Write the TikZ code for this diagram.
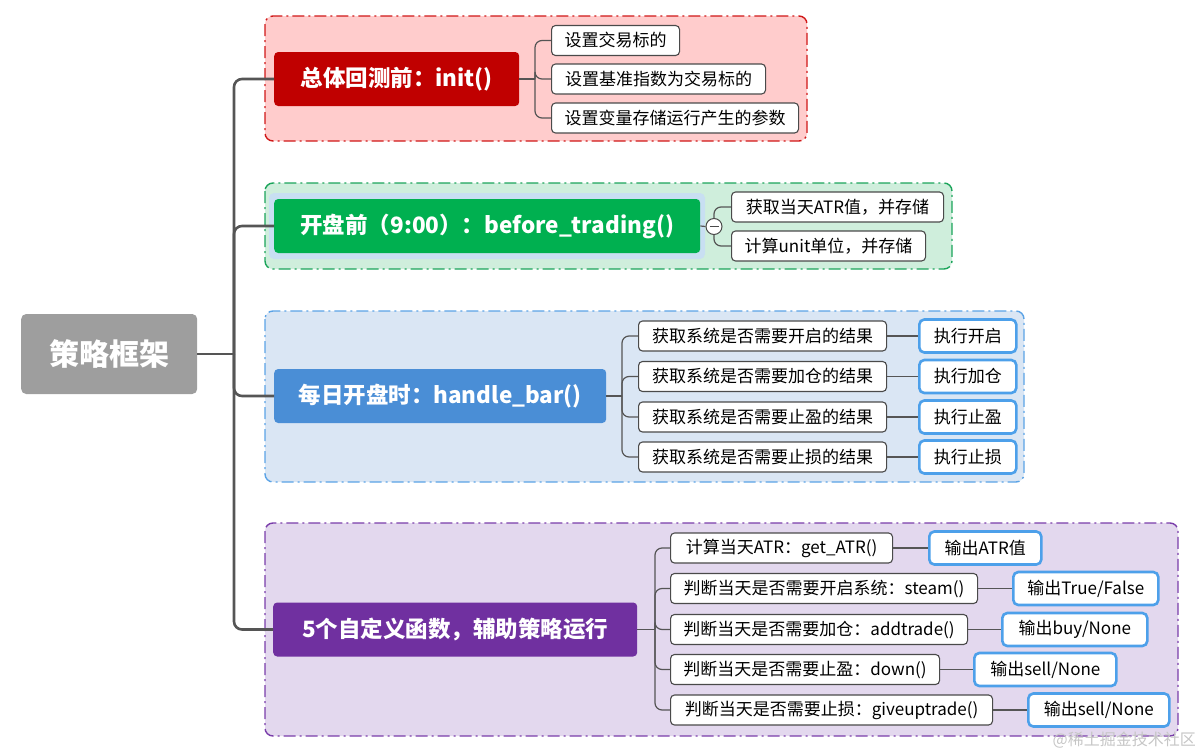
\documentclass[tikz,border=0pt]{standalone}
\usepackage{fontspec}
\setmainfont{Noto Sans CJK SC}
\definecolor{redfill}{HTML}{FFCCCC}
\definecolor{redline}{HTML}{D01818}
\definecolor{redmain}{HTML}{C00000}
\definecolor{greenfill}{HTML}{CFEEDC}
\definecolor{greenline}{HTML}{1BA45A}
\definecolor{greenmain}{HTML}{00B050}
\definecolor{bluefill}{HTML}{DAE6F4}
\definecolor{blueline}{HTML}{5BA3E6}
\definecolor{bluemain}{HTML}{4A8ED6}
\definecolor{purplefill}{HTML}{E3D8EE}
\definecolor{purpleline}{HTML}{7A3DAA}
\definecolor{purplemain}{HTML}{7030A0}
\definecolor{rootfill}{HTML}{9E9E9E}
\definecolor{conn}{HTML}{555555}
\definecolor{leafline}{HTML}{4A4A4A}
\definecolor{outline}{HTML}{4DA0EA}
\definecolor{hilite}{HTML}{C8DFF2}
\begin{document}
\begin{tikzpicture}[x=1pt,y=-1pt,
 frame/.style={rounded corners=8pt, line width=1.4pt, dash pattern=on 12pt off 4pt on 2pt off 4pt},
 mainbox/.style={rounded corners=4pt, text=white, font=\fontsize{22.5}{26}\selectfont\bfseries, minimum height=54pt, inner sep=0pt, anchor=west},
 leaf/.style={draw=leafline, line width=1.1pt, fill=white, rounded corners=4pt, minimum height=30pt, inner sep=0pt, anchor=west, font=\fontsize{17}{20}\selectfont},
 outbox/.style={draw=outline, line width=2.6pt, fill=white, rounded corners=5pt, minimum height=33pt, inner sep=0pt, anchor=west, font=\fontsize{17}{20}\selectfont},
 trunk/.style={draw=conn, line width=2.6pt, rounded corners=8pt},
 branch/.style={draw=conn, line width=1.2pt, rounded corners=7pt},
]
\useasboundingbox (0,0) rectangle (1200,753);
% group frames
\draw[frame, draw=redline, fill=redfill] (265,16) rectangle (807,141);
\draw[frame, draw=greenline, fill=greenfill] (265,183) rectangle (952,269);
\draw[frame, draw=blueline, fill=bluefill] (265,311) rectangle (1024,482);
\draw[frame, draw=purpleline, fill=purplefill] (265,523) rectangle (1178,736);
\fill[hilite, rounded corners=5pt] (269,193) rectangle (705,259);
% root
\node[rounded corners=5pt, fill=rootfill, text=white, font=\fontsize{30}{34}\selectfont\bfseries, minimum width=176pt, minimum height=80pt, inner sep=0pt, anchor=west] (root) at (21,354) {策略框架};
% main nodes
\node[mainbox, fill=redmain, minimum width=245pt] (m1) at (274,79) {总体回测前：init()};
\node[mainbox, fill=greenmain, minimum width=426pt] (m2) at (274,226) {开盘前（9:00）：before\_trading()};
\node[mainbox, fill=bluemain, minimum width=332pt] (m3) at (274,396) {每日开盘时：handle\_bar()};
\node[mainbox, fill=purplemain, minimum width=364pt] (m4) at (273,629.5) {5个自定义函数，辅助策略运行};
% trunk
\coordinate (t) at (234,354);
\draw[trunk] (root.east) -- (t);
\draw[trunk] (t) |- (m1.west);
\draw[trunk] (t) |- (m2.west);
\draw[trunk] (t) |- (m3.west);
\draw[trunk] (t) |- (m4.west);
% group 1
\node[leaf, minimum width=128pt] (l11) at (551,40.5) {设置交易标的};
\node[leaf, minimum width=214pt] (l12) at (551,79) {设置基准指数为交易标的};
\node[leaf, minimum width=247pt] (l13) at (551,118) {设置变量存储运行产生的参数};
\coordinate (b1) at (535,79);
\draw[branch] (m1.east) -- (b1);
\draw[branch] (b1) |- (l11.west);
\draw[branch] (b1) |- (l12.west);
\draw[branch] (b1) |- (l13.west);
% group 2
\node[leaf, minimum width=212pt] (l21) at (731,207) {获取当天ATR值，并存储};
\node[leaf, minimum width=194pt] (l22) at (731,246) {计算unit单位，并存储};
\node[circle, draw=leafline, line width=1pt, fill=white, minimum size=16pt, inner sep=0pt] (c2) at (714,226.5) {};
\draw[branch] (m2.east) -- (c2.west);
\draw[branch] (c2.north) |- (l21.west);
\draw[branch] (c2.south) |- (l22.west);
\draw[leafline, line width=1pt] ([xshift=-4.5pt]c2.center) -- ([xshift=4.5pt]c2.center);
% group 3
\node[leaf, minimum width=248pt] (l31) at (638,336) {获取系统是否需要开启的结果};
\node[leaf, minimum width=248pt] (l32) at (638,376.5) {获取系统是否需要加仓的结果};
\node[leaf, minimum width=248pt] (l33) at (638,417) {获取系统是否需要止盈的结果};
\node[leaf, minimum width=248pt] (l34) at (638,457) {获取系统是否需要止损的结果};
\node[outbox, minimum width=97pt] (o31) at (918,336) {执行开启};
\node[outbox, minimum width=97pt] (o32) at (918,376.5) {执行加仓};
\node[outbox, minimum width=97pt] (o33) at (918,417) {执行止盈};
\node[outbox, minimum width=97pt] (o34) at (918,457) {执行止损};
\coordinate (b3) at (622,396);
\draw[branch] (m3.east) -- (b3);
\foreach \i in {1,...,4}{
  \draw[branch] (b3) |- (l3\i.west);
  \draw[branch] (l3\i.east) -- (o3\i.west);
}
% group 4
\node[leaf, minimum width=222pt] (l41) at (670,548) {计算当天ATR：get\_ATR()};
\node[leaf, minimum width=307pt] (l42) at (670,588.5) {判断当天是否需要开启系统：steam()};
\node[leaf, minimum width=297pt] (l43) at (670,629.5) {判断当天是否需要加仓：addtrade()};
\node[leaf, minimum width=269pt] (l44) at (670,669.5) {判断当天是否需要止盈：down()};
\node[leaf, minimum width=322pt] (l45) at (670,710) {判断当天是否需要止损：giveuptrade()};
\node[outbox, minimum width=112pt] (o41) at (928,548) {输出ATR值};
\node[outbox, minimum width=145pt] (o42) at (1012,588.5) {输出True/False};
\node[outbox, minimum width=145pt] (o43) at (1001,629.5) {输出buy/None};
\node[outbox, minimum width=142pt] (o44) at (973,669.5) {输出sell/None};
\node[outbox, minimum width=141pt] (o45) at (1027,710) {输出sell/None};
\coordinate (b4) at (655,629.5);
\draw[branch] (m4.east) -- (b4);
\foreach \i in {1,...,5}{
  \draw[branch] (b4) |- (l4\i.west);
  \draw[branch] (l4\i.east) -- (o4\i.west);
}
% watermark
\node[text=gray!45, font=\fontsize{16}{18}\selectfont, anchor=east, inner sep=0pt] (wm) at (1196,740) {@稀土掘金技术社区};
\end{tikzpicture}
\end{document}
